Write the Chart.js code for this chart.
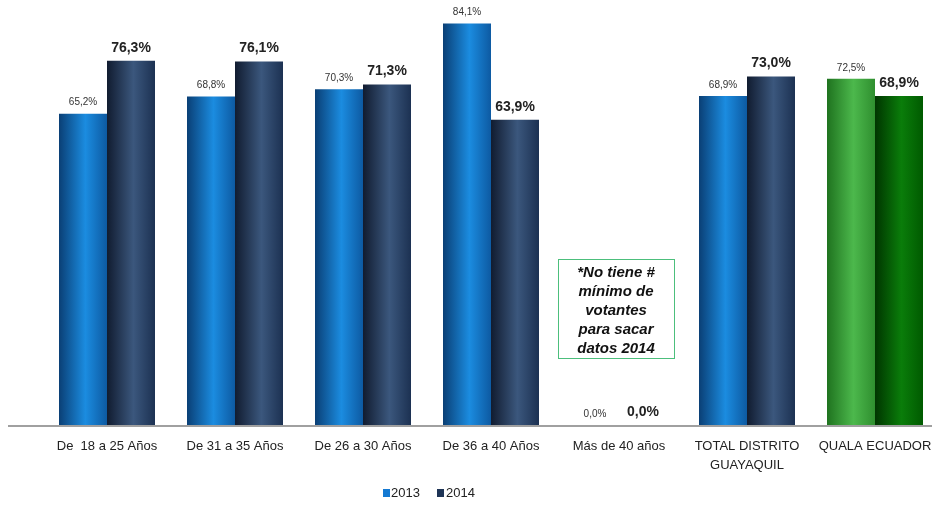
<!doctype html>
<html lang="es">
  <head>
    <meta charset="utf-8">
    <title>Votantes 2013 - 2014</title>
    <script src="https://cdn.jsdelivr.net/npm/chart.js"></script>
    <style>
      html, body { margin: 0; padding: 0; background: #fff; overflow: hidden; }
      #wrap { width: 940px; height: 505px; }
    </style>
  </head>
  <body>
    <div id="wrap"><canvas id="barChart" width="940" height="505"></canvas></div>
    <script>
      const categories = [
        'De  18 a 25 Años',
        'De 31 a 35 Años',
        'De 26 a 30 Años',
        'De 36 a 40 Años',
        'Más de 40 años',
        ['TOTAL DISTRITO', 'GUAYAQUIL'],
        'QUALA ECUADOR'
      ];
      const values2013 = [65.2, 68.8, 70.3, 84.1, 0.0, 68.9, 72.5];
      const values2014 = [76.3, 76.1, 71.3, 63.9, 0.0, 73.0, 68.9];
      const noteLines = ['*No tiene #', 'mínimo de', 'votantes', 'para sacar', 'datos 2014'];

      // gradient stops: [edge, highlight, edge]
      const blueStops  = ['#0a3f75', '#1b8ce0', '#0d5aa2'];
      const navyStops  = ['#111c30', '#3b577d', '#1c3152'];
      const greenStops = ['#1f731f', '#4cb84c', '#2f8f2f'];
      const dgreenStops = ['#003500', '#0a7d0a', '#005a00'];

      function barFill(ctx) {
        const chart = ctx.chart;
        const xs = chart.scales.x;
        if (!chart.chartArea || !xs) return blueStops[1];
        const i = ctx.dataIndex;
        const ds = ctx.datasetIndex;
        const bw = xs.width / categories.length * 0.75 / 2;
        const cx = xs.getPixelForValue(i) + (ds === 0 ? -bw / 2 : bw / 2);
        const g = chart.ctx.createLinearGradient(cx - bw / 2, 0, cx + bw / 2, 0);
        let stops;
        if (i === categories.length - 1) stops = ds === 0 ? greenStops : dgreenStops;
        else stops = ds === 0 ? blueStops : navyStops;
        g.addColorStop(0, stops[0]);
        g.addColorStop(0.55, stops[1]);
        g.addColorStop(1, stops[2]);
        return g;
      }

      const extras = {
        id: 'extras',
        afterDatasetsDraw(chart) {
          const c = chart.ctx;
          const xs = chart.scales.x, ys = chart.scales.y;
          const base = ys.getPixelForValue(0);

          // axis line
          c.save();
          c.strokeStyle = '#a0a0a0';
          c.lineWidth = 2;
          c.beginPath();
          c.moveTo(8, base + 1);
          c.lineTo(chart.width, base + 1);
          c.stroke();

          // value labels
          c.textAlign = 'center';
          c.textBaseline = 'bottom';
          chart.data.datasets.forEach((ds, di) => {
            const meta = chart.getDatasetMeta(di);
            meta.data.forEach((bar, i) => {
              const txt = ds.data[i].toFixed(1).replace('.', ',') + '%';
              if (di === 0) {
                c.font = '10px "Liberation Sans", Arial, sans-serif';
                c.fillStyle = '#333';
                c.fillText(txt, bar.x, bar.y - 6);
              } else {
                c.font = 'bold 14px "Liberation Sans", Arial, sans-serif';
                c.fillStyle = '#222';
                c.fillText(txt, bar.x, bar.y - 6);
              }
            });
          });

          // note box over the empty category
          const nx = xs.getPixelForValue(4) - 3;
          const top = ys.getPixelForValue(34.8);
          const bottom = ys.getPixelForValue(14.0);
          c.strokeStyle = '#4cbf7c';
          c.lineWidth = 1;
          c.strokeRect(Math.round(nx - 58) + 0.5, Math.round(top) + 0.5, 116, Math.round(bottom - top));
          c.fillStyle = '#111';
          c.font = 'italic bold 15px "Liberation Sans", Arial, sans-serif';
          c.textBaseline = 'middle';
          noteLines.forEach((t, k) => c.fillText(t, nx, top + 14 + k * 19));

          // legend
          const ly = 493;
          c.font = '13px "Liberation Sans Narrow", "Liberation Sans", sans-serif';
          c.textAlign = 'left';
          c.fillStyle = '#1479d2';
          c.fillRect(383, ly - 4, 7, 8);
          c.fillStyle = '#222';
          c.fillText(chart.data.datasets[0].label, 391, ly);
          c.fillStyle = '#1e3456';
          c.fillRect(437, ly - 4, 7, 8);
          c.fillStyle = '#222';
          c.fillText(chart.data.datasets[1].label, 446, ly);
          c.restore();
        }
      };

      const chart = new Chart(document.getElementById('barChart'), {
        type: 'bar',
        data: {
          labels: categories,
          datasets: [
            { label: '2013', data: values2013, backgroundColor: barFill },
            { label: '2014', data: values2014, backgroundColor: barFill }
          ]
        },
        options: {
          responsive: false,
          animation: false,
          events: [],
          layout: { padding: { left: 43, right: 1, top: 0, bottom: 0 } },
          datasets: { bar: { categoryPercentage: 0.75, barPercentage: 1.0 } },
          plugins: { legend: { display: false }, tooltip: { enabled: false } },
          scales: {
            x: {
              grid: { display: false },
              border: { display: false },
              ticks: {
                color: '#222',
                padding: 4,
                maxRotation: 0,
                autoSkip: false,
                font: { family: '"Liberation Sans Narrow", "Liberation Sans", sans-serif', size: 13, lineHeight: 1.45 }
              },
              afterFit(scale) { scale.height = 80; }
            },
            y: {
              display: false,
              min: 0,
              max: 89
            }
          }
        },
        plugins: [extras]
      });
    </script>
  </body>
</html>
